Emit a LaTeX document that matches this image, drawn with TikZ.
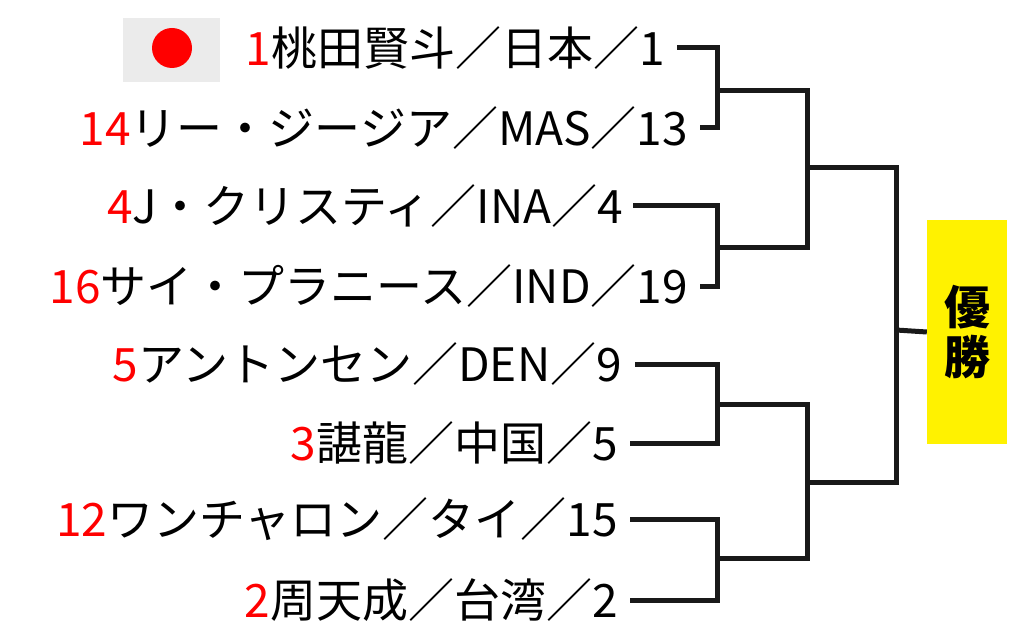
\documentclass[tikz,border=0pt]{standalone}
\usepackage{fontspec}
\setmainfont{Noto Sans CJK JP}
\usetikzlibrary{positioning}

\tikzset{
  player/.style={anchor=east,inner sep=0pt,font=\fontsize{46}{46}\selectfont},
  bline/.style={line width=5pt,draw=black!90},
  winbox/.style={fill=yellow,minimum width=80pt,minimum height=223pt,inner sep=0pt,
    font=\fontsize{46}{50}\selectfont\bfseries,align=center}
}
\newcommand{\seed}[1]{\textcolor{red}{#1}}

\begin{document}
\begin{tikzpicture}[x=1pt,y=-1pt]
  \useasboundingbox (0,0) rectangle (1024,644);
  % flag
  \fill[black!8] (123,18) rectangle (220,82);
  \fill[red] (172,48) circle (20);
  % players
  \node[player] (p1) at (665,48)  {\seed{1}桃田賢斗／日本／1};
  \node[player] (p2) at (688,128) {\seed{14}リー・ジージア／MAS／13};
  \node[player] (p3) at (623,206) {\seed{4}J・クリスティ／INA／4};
  \node[player] (p4) at (688,286) {\seed{16}サイ・プラニース／IND／19};
  \node[player] (p5) at (622,364) {\seed{5}アントンセン／DEN／9};
  \node[player] (p6) at (618,443) {\seed{3}諶龍／中国／5};
  \node[player] (p7) at (618,519) {\seed{12}ワンチャロン／タイ／15};
  \node[player] (p8) at (618,600) {\seed{2}周天成／台湾／2};
  \node[winbox] (win) at (967,332) {優\\勝};
  % joints
  \coordinate (a1) at (717,91);
  \coordinate (a2) at (717,247);
  \coordinate (a3) at (717,404);
  \coordinate (a4) at (717,558);
  \coordinate (b1) at (807,168);
  \coordinate (b2) at (807,482);
  \coordinate (c1) at (896,330);
  % bracket
  \draw[bline] ([xshift=12pt]p1.east) -| (a1) |- ([xshift=12pt]p2.east);
  \draw[bline] ([xshift=10pt]p3.east) -| (a2) |- ([xshift=12pt]p4.east);
  \draw[bline] ([xshift=13pt]p5.east) -| (a3) |- ([xshift=12pt]p6.east);
  \draw[bline] ([xshift=12pt]p7.east) -| (a4) |- ([xshift=12pt]p8.east);
  \draw[bline] (a1) -| (b1) |- (a2);
  \draw[bline] (a3) -| (b2) |- (a4);
  \draw[bline] (b1) -| (c1) |- (b2);
  \draw[bline] (c1) -- (win.west);
\end{tikzpicture}
\end{document}
